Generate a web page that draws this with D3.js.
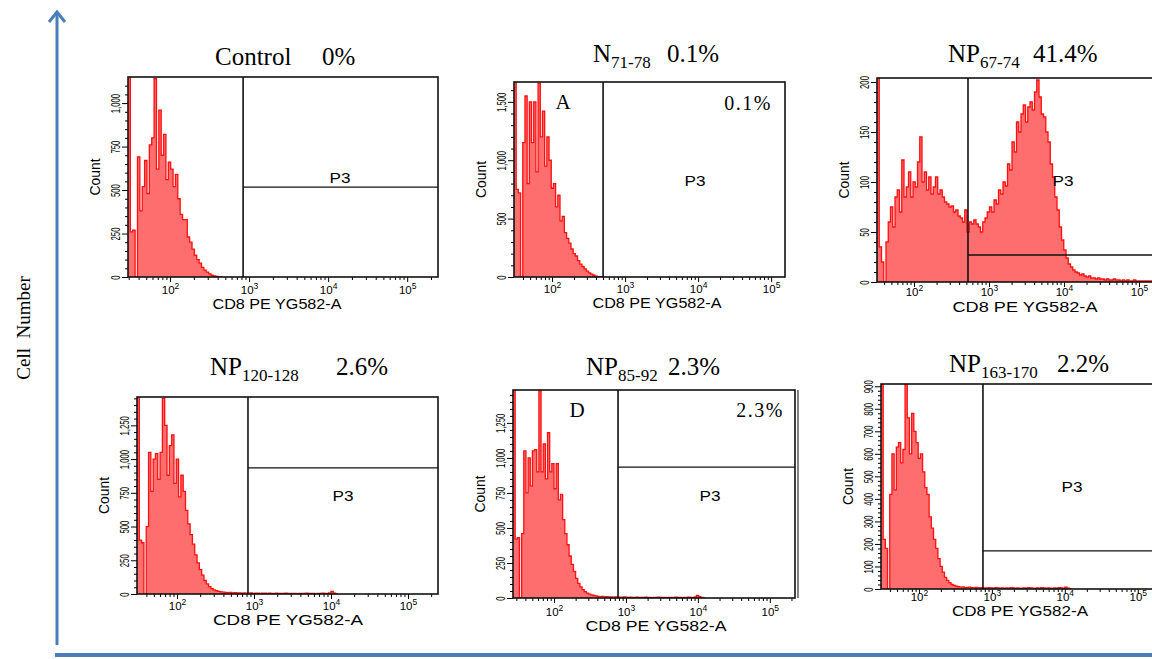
<!DOCTYPE html>
<html>
<head>
<meta charset="utf-8">
<script src="https://cdn.jsdelivr.net/npm/d3@7"></script>
<style>
  body { margin: 0; background: #fff; }
  svg { display: block; }
</style>
</head>
<body>
<svg id="chart" width="1152" height="659"></svg>
<script>
// every histogram has one bin per 0.03 decade, starting at the left edge of its plot
var binStep = 0.03;

var countsControl = [3000, 260, 270, 0, 690, 380, 520, 670, 480, 760, 800, 1140, 620, 960, 700, 820, 560, 660, 620, 520,
  590, 450, 360, 330, 330, 230, 200, 160, 125, 100, 80, 55, 40, 28, 18, 10, 6, 3, 1, 0];

var countsN71 = [5000, 750, 720, 0, 1150, 1550, 800, 1500, 1150, 1500, 900, 1660, 1200, 1420, 950, 1200, 1000, 760, 800, 600,
  700, 480, 520, 380, 330, 290, 240, 200, 180, 140, 110, 90, 70, 50, 35, 25, 15, 8, 4, 2, 0];

var countsNP67 = [300, 35, 20, 0, 40, 60, 75, 55, 85, 92,
  70, 122, 85, 95, 110, 85, 100, 95, 120, 145,
  100, 110, 92, 105, 88, 95, 105, 88, 92, 85,
  80, 78, 75, 76, 70, 72, 66, 64, 60, 72,
  50, 60, 58, 62, 58, 55, 50, 60, 64, 70,
  75, 70, 82, 78, 92, 88, 100, 96, 118, 112,
  140, 130, 160, 150, 168, 177, 160, 175, 180, 172,
  190, 202, 185, 168, 165, 150, 140, 118, 105, 85,
  72, 55, 42, 32, 24, 18, 15, 12, 10, 9,
  7, 8, 6, 5, 6, 4, 4, 3, 4, 3,
  3, 2, 3, 2, 2, 3, 2, 2, 1, 2,
  1, 2, 1, 1, 2, 1, 1, 1, 1, 1,
  1, 1, 1];

var countsNP120 = [5000, 400, 380, 0, 500, 1050, 760, 1000, 1040, 850,
  1050, 1450, 1250, 880, 1100, 1180, 820, 1000, 720, 880,
  760, 620, 520, 440, 370, 290, 230, 180, 140, 100,
  75, 55, 40, 30, 24, 20, 16, 14, 12, 10,
  12, 9, 10, 8, 9, 7, 8,
  7, 6, 8, 5, 7, 6, 5, 7, 6, 5, 6, 5, 4, 6, 5, 4, 5, 6, 4, 5,
  4, 5, 3, 5, 4, 5, 6, 4, 5, 4, 3, 5, 4, 6, 5, 4, 8, 20, 6, 0];

var countsNP85 = [5000, 420, 430, 0, 460, 1050, 750, 1000, 800, 1050,
  1060, 900, 1480, 900, 1100, 850, 1180, 900, 960, 780,
  960, 700, 740, 560, 460, 380, 300, 240, 190, 140,
  105, 80, 60, 45, 35, 28, 22, 18, 15,
  12, 10, 11, 8, 9, 7, 8, 6, 7, 8, 6, 5, 7, 6, 5, 6, 4, 5, 6, 5,
  4, 5, 6, 4, 5, 3, 5, 4, 6, 5, 4, 5, 3, 4, 5, 4, 6, 5, 4, 3,
  5, 4, 6, 5, 4, 7, 18, 9, 4, 0];

var countsNP163 = [3000, 220, 180, 0, 420, 600, 440, 630, 650, 560,
  620, 910, 760, 600, 780, 700, 650, 580, 600, 520,
  450, 420, 320, 270, 220, 180, 135, 100, 75, 52,
  38, 28, 20, 16, 13, 10,
  8, 9, 6, 7, 8, 6, 5, 7, 6, 5, 6, 4, 5, 6, 5, 4, 6, 5, 4, 5,
  3, 5, 4, 6, 5, 4, 5, 3, 4, 5, 4, 6, 5, 4, 3, 5, 4, 6, 5, 4,
  5, 4, 3, 5, 4, 6, 5, 4, 8, 4, 0];

var counts = [countsControl, countsN71, countsNP67, countsNP120, countsNP85, countsNP163];

var titleMain = ["Control", "N", "NP", "NP", "NP", "NP"];
var titleSub = ["", "71-78", "67-74", "120-128", "85-92", "163-170"];
var titlePct = ["0%", "0.1%", "41.4%", "2.6%", "2.3%", "2.2%"];
var insetLetter = [null, "A", null, null, "D", null];
var insetPct = [null, "0.1%", null, null, "2.3%", null];

// P3 gate: threshold on CD8 PE and the level of the gate's horizontal line (counts)
var gateX = [840, 500, 525, 835, 776, 754];
var gateLevel = [517, null, 27, 934, 935, 169];

var xLabel = "CD8 PE YG582-A";
var yLabel = "Count";
var gateName = "P3";
var bigAxisLabel = "Cell  Number";

// placement of each small plot
var layout = [
  {x0: 128, x1: 438, y0: 77, y1: 277, lv: [1.468, 5.39], yMax: 1150, yStep: 250, tx: 215, px: 322, ty: 65, tickDy: 17, labDy: 32, labX: 277, labW: 129, p3: [340, 183]},
  {x0: 514, x1: 785, y0: 82, y1: 277, lv: [1.479, 5.19], yMax: 1670, yStep: 500, tx: 593, px: 667, ty: 62, tickDy: 16, labDy: 31, labX: 657, labW: 129, p3: [695, 186], letter: [563, 109], pct: [748, 110]},
  {x0: 877, x1: 1175, y0: 78, y1: 282, lv: [1.507, 5.48], yMax: 204, yStep: 50, tx: 948, px: 1033, ty: 62, tickDy: 14, labDy: 30, labX: 1025, labW: 145, p3: [1063, 186]},
  {x0: 137, x1: 438, y0: 397, y1: 594, lv: [1.48, 5.39], yMax: 1460, yStep: 250, tx: 210, px: 336, ty: 375, tickDy: 16, labDy: 31, labX: 288, labW: 150, p3: [343, 501]},
  {x0: 513, x1: 795, y0: 390, y1: 598, lv: [1.43, 5.35], yMax: 1485, yStep: 250, tx: 586, px: 668, ty: 375, tickDy: 18, labDy: 33, labX: 656, labW: 141, p3: [710, 501], letter: [577, 417], pct: [760, 417], edge: 798},
  {x0: 881, x1: 1175, y0: 384, y1: 589, lv: [1.48, 5.51], yMax: 910, yStep: 100, tx: 949, px: 1057, ty: 372, tickDy: 12, labDy: 27, labX: 1020, labW: 136, p3: [1072, 492]}
];

var serif = "'Liberation Serif', 'Times New Roman', serif";
var sans = "'Liberation Sans', Arial, sans-serif";
var blue = "#4a7ebb";
var red = "#ff1010";
var pink = "#ff6e6e";

var svg = d3.select("#chart");
var defs = svg.append("defs");

layout.forEach(function(p, k) {
  var x = d3.scaleLog()
    .domain([Math.pow(10, p.lv[0]), Math.pow(10, p.lv[1])])
    .range([p.x0, p.x1]);
  var y = d3.scaleLinear()
    .domain([0, p.yMax])
    .range([p.y1, p.y0]);

  var g = svg.append("g");

  defs.append("clipPath").attr("id", "clip" + k)
    .append("rect")
    .attr("x", p.x0).attr("y", p.y0)
    .attr("width", p.x1 - p.x0).attr("height", p.y1 - p.y0);

  // histogram bins
  var bins = counts[k].map(function(c, i) {
    return { v: Math.pow(10, p.lv[0] + i * binStep), c: c };
  });
  bins.push({ v: Math.pow(10, p.lv[0] + counts[k].length * binStep), c: 0 });

  var hist = g.append("g").attr("clip-path", "url(#clip" + k + ")");
  hist.append("path")
    .datum(bins)
    .attr("fill", pink)
    .attr("d", d3.area().curve(d3.curveStepAfter)
      .x(function(d) { return x(d.v); })
      .y0(y(0))
      .y1(function(d) { return y(d.c); }));
  hist.append("path")
    .datum(bins)
    .attr("fill", "none")
    .attr("stroke", red)
    .attr("stroke-width", 1.3)
    .attr("d", d3.line().curve(d3.curveStepAfter)
      .x(function(d) { return x(d.v); })
      .y(function(d) { return y(d.c); }));

  // y axis: major + minor ticks, rotated condensed labels
  var majors = d3.range(0, p.yMax + 0.001, p.yStep);
  var minors = d3.range(0, p.yMax, p.yStep / 5).filter(function(v) { return v % p.yStep !== 0; });

  var yMinor = g.append("g")
    .attr("transform", "translate(" + p.x0 + ",0)")
    .call(d3.axisLeft(y).tickValues(minors).tickSize(3).tickFormat(""));
  yMinor.select(".domain").remove();

  var yAxis = g.append("g")
    .attr("transform", "translate(" + p.x0 + ",0)")
    .call(d3.axisLeft(y).tickValues(majors).tickSize(6).tickFormat(d3.format(",")));
  yAxis.select(".domain").remove();
  yAxis.selectAll("text")
    .attr("x", 0).attr("y", -8.5).attr("dy", null)
    .attr("text-anchor", "middle")
    .attr("transform", "rotate(-90) scale(0.62,1)")
    .attr("font-family", sans).attr("font-size", 12.5);

  g.append("text")
    .attr("transform", "translate(" + (p.x0 - 28) + "," + ((p.y0 + p.y1) / 2) + ") rotate(-90)")
    .attr("text-anchor", "middle")
    .attr("font-family", sans).attr("font-size", 15)
    .attr("textLength", 37).attr("lengthAdjust", "spacingAndGlyphs")
    .text(yLabel);

  // x axis: log decades with minor ticks
  var dom = x.domain();
  var xMajors = [], xMinors = [];
  for (var d = 1; d <= 5; d++) {
    for (var m = 1; m <= 9; m++) {
      var v = m * Math.pow(10, d);
      if (v < dom[0] || v > dom[1]) continue;
      if (m === 1) xMajors.push(v); else xMinors.push(v);
    }
  }
  var xMinor = g.append("g")
    .attr("transform", "translate(0," + p.y1 + ")")
    .call(d3.axisBottom(x).tickValues(xMinors).tickSize(3).tickFormat(""));
  xMinor.select(".domain").remove();

  var xAxis = g.append("g")
    .attr("transform", "translate(0," + p.y1 + ")")
    .call(d3.axisBottom(x).tickValues(xMajors).tickSize(5));
  xAxis.select(".domain").remove();
  xAxis.selectAll("text")
    .attr("y", p.tickDy).attr("dy", null)
    .attr("font-family", sans).attr("font-size", 11.5)
    .each(function(v) {
      var t = d3.select(this);
      t.text(null);
      t.append("tspan").text("10");
      t.append("tspan").attr("dy", -5).attr("font-size", 8.5).text(Math.round(Math.log10(v)));
    });

  g.append("text")
    .attr("x", p.labX)
    .attr("y", p.y1 + p.labDy)
    .attr("text-anchor", "middle")
    .attr("font-family", sans).attr("font-size", 14)
    .attr("textLength", p.labW).attr("lengthAdjust", "spacingAndGlyphs")
    .text(xLabel);

  // frame and gate
  g.append("rect")
    .attr("x", p.x0).attr("y", p.y0)
    .attr("width", p.x1 - p.x0).attr("height", p.y1 - p.y0)
    .attr("fill", "none").attr("stroke", "#111").attr("stroke-width", 1.6);
  if (p.edge) {
    g.append("line")
      .attr("x1", p.edge).attr("x2", p.edge).attr("y1", p.y0).attr("y2", p.y1)
      .attr("stroke", "#333").attr("stroke-width", 1.2);
  }
  g.append("line")
    .attr("x1", x(gateX[k])).attr("x2", x(gateX[k]))
    .attr("y1", p.y0).attr("y2", p.y1)
    .attr("stroke", "#111").attr("stroke-width", 1.6);
  if (gateLevel[k] !== null) {
    g.append("line")
      .attr("x1", x(gateX[k])).attr("x2", p.x1)
      .attr("y1", y(gateLevel[k])).attr("y2", y(gateLevel[k]))
      .attr("stroke", "#111").attr("stroke-width", 1.3);
  }
  g.append("text")
    .attr("x", p.p3[0]).attr("y", p.p3[1])
    .attr("text-anchor", "middle")
    .attr("font-family", sans).attr("font-size", 14)
    .attr("textLength", 21).attr("lengthAdjust", "spacingAndGlyphs")
    .text(gateName);

  if (insetLetter[k]) {
    g.append("text")
      .attr("x", p.letter[0]).attr("y", p.letter[1])
      .attr("text-anchor", "middle")
      .attr("font-family", serif).attr("font-size", 21)
      .text(insetLetter[k]);
    g.append("text")
      .attr("x", p.pct[0]).attr("y", p.pct[1])
      .attr("text-anchor", "middle")
      .attr("font-family", serif).attr("font-size", 20)
      .attr("letter-spacing", 1.5)
      .text(insetPct[k]);
  }

  // title
  var title = g.append("text")
    .attr("x", p.tx).attr("y", p.ty)
    .attr("font-family", serif).attr("font-size", 25);
  title.append("tspan").text(titleMain[k]);
  if (titleSub[k]) {
    title.append("tspan").attr("dy", 6).attr("font-size", 17).text(titleSub[k]);
  }
  g.append("text")
    .attr("x", p.px).attr("y", p.ty)
    .attr("font-family", serif).attr("font-size", 25)
    .text(titlePct[k]);
});

// outer axes of the figure
svg.append("line")
  .attr("x1", 57).attr("x2", 57).attr("y1", 645).attr("y2", 12)
  .attr("stroke", blue).attr("stroke-width", 3);
svg.append("path")
  .attr("d", "M49,22 L57,12 L65,22")
  .attr("fill", "none").attr("stroke", blue).attr("stroke-width", 3);
svg.append("line")
  .attr("x1", 55).attr("x2", 1152).attr("y1", 655).attr("y2", 655)
  .attr("stroke", blue).attr("stroke-width", 4);

svg.append("text")
  .attr("transform", "translate(30,328) rotate(-90)")
  .attr("text-anchor", "middle")
  .attr("font-family", serif).attr("font-size", 19)
  .style("white-space", "pre")
  .text(bigAxisLabel);
</script>
</body>
</html>
